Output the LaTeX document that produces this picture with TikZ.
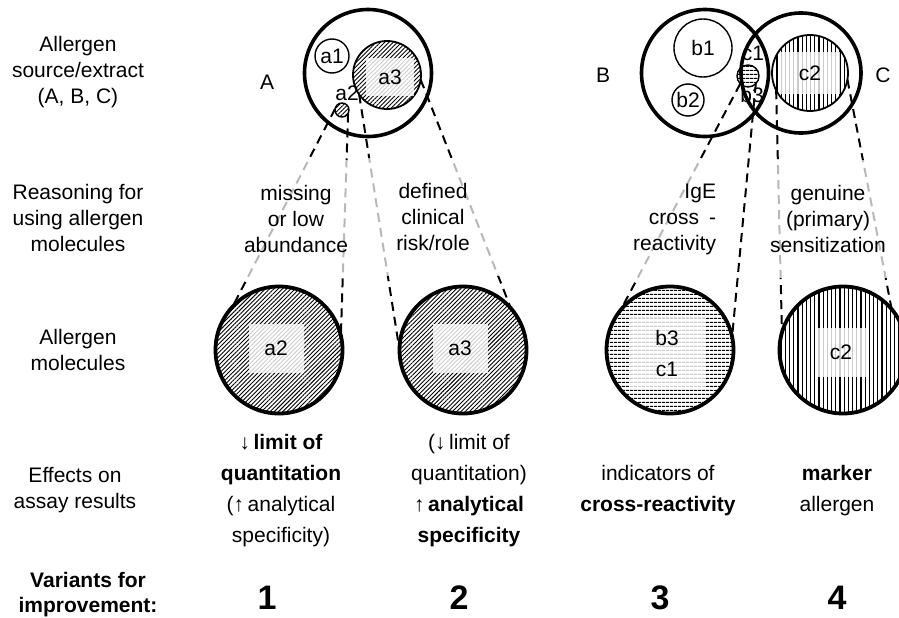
\documentclass[tikz,border=0pt]{standalone}
\usepackage{fontspec}
\setmainfont{Liberation Sans}
\usetikzlibrary{positioning,patterns,patterns.meta,calc}

\begin{document}
\begin{tikzpicture}[x=1pt,y=-1pt]
                    \tikzstyle{every node}=[font=\fontsize{21}{26}\selectfont,inner sep=0,outer sep=0,align=center]
                    \tikzstyle{srcring}=[circle,draw,line width=3.6,minimum size=127]
                    \tikzstyle{molring}=[circle,draw,line width=3.8,minimum size=127]
                    \tikzstyle{part}=[circle,draw,line width=1.4]
                    \tikzstyle{hatch}=[pattern={Lines[angle=45,distance=3pt,line width=0.9pt]},pattern color=black]
                    \tikzstyle{hlines}=[pattern={Lines[angle=0,distance=4pt,line width=1.3pt]}]
                    \tikzstyle{vlines}=[pattern={Lines[angle=90,distance=4.2pt,line width=1.3pt]}]
                    \tikzstyle{lblbox}=[rectangle,fill=white,fill opacity=0.8,text opacity=1]
                    \tikzstyle{cone}=[line width=2,dash pattern=on 9pt off 6pt]
                    \tikzstyle{why}=[rectangle,fill=white,fill opacity=0.72,text opacity=1,minimum height=118]
                    \tikzstyle{effect}=[font=\fontsize{21}{31}\selectfont]
                    \tikzstyle{num}=[font=\fontsize{34}{34}\selectfont\bfseries]
                    \useasboundingbox (0,0) rectangle (899,618);
                    {
                        \node (rsrc) at (78,72) {Allergen\\source/extract\\(A, B, C)};
                        \node (rwhy) at (78,218) {Reasoning for\\using allergen\\molecules};
                        \node (rmol) at (78,350) {Allergen\\molecules};
                        \node (reff) at (75,490) {Effects on\\assay results};
                        \node[font=\fontsize{21}{25}\selectfont\bfseries] (rvar) at (88,595) {Variants for\\improvement:};
                    }
                    {
                        \node[srcring] (A) at (368,73) {};
                        \node[part,minimum size=34] (a1) at (332,56) {a1};
                        \node[part,hatch,line width=1.8,minimum size=68] (a3) at (387,75) {};
                        \node[lblbox,minimum width=48,minimum height=38] (la3) at (390,77) {a3};
                        \node[part,hatch,minimum size=14] (a2) at (342,110) {};
                        \node (la2) at (347,93) {a2};
                        \node (lA) at (267,82) {A};
                    }
                    {
                        \node[srcring] (B) at (705,73) {};
                        \node[srcring,minimum size=120] (C) at (801,73) {};
                        \node[part,minimum size=58] (b1) at (703,48) {b1};
                        \node[part,minimum size=32] (b2) at (688,100) {b2};
                        \node[part,vlines,line width=1.8,minimum size=76] (c2) at (810,73) {};
                        \node[lblbox,minimum width=60,minimum height=42] (lc2) at (810,73) {c2};
                        \node[part,hlines,minimum size=22] (b3) at (748,76) {};
                        \node (lc1) at (753,53) {c1};
                        \node (lb3) at (752,95) {b3};
                        \node (lB) at (603,75) {B};
                        \node (lC) at (883,75) {C};
                    }
                    {
                        \node[molring,hatch] (ma2) at (279,350) {};
                        \node[lblbox,minimum width=55,minimum height=49] at (276,348) {a2};
                        \node[molring,hatch] (ma3) at (463,350) {};
                        \node[lblbox,minimum width=55,minimum height=49] at (460,348) {a3};
                        \node[molring,hlines] (mb3) at (670,350) {};
                        \node[lblbox,font=\fontsize{21}{31}\selectfont,minimum width=76,minimum height=70] at (667,353) {b3\\c1};
                        \node[molring,vlines] (mc2) at (843,350) {};
                        \node[lblbox,minimum width=53,minimum height=49] at (841,352) {c2};
                    }
                    \draw[cone] (a2.170) -- (ma2.137);
                    \draw[cone] (a2.330) -- (ma2.13);
                    \draw[cone] (a3.215) -- (ma3.180);
                    \draw[cone] (a3.352) -- (ma3.41);
                    \draw[cone] (b3.225) -- (mb3.141);
                    \draw[cone] (b3.315) -- (mb3.12);
                    \draw[cone] (c2.207) -- (mc2.164);
                    \draw[cone] (c2.350) -- (mc2.40);
                    {
                        \node[why,minimum width=128] (w1) at (296,219) {missing\\or low\\abundance};
                        \node[why,minimum width=140] (w2) at (433,217) {defined\\clinical\\risk/role};
                        \node[why,anchor=east,align=right,text width=92,inner xsep=6] (w3) at (722,219) {IgE\\cross\hspace{10pt}-\\reactivity};
                        \node[why,minimum width=138] (w4) at (828,219) {genuine\\(primary)\\sensitization};
                    }
                    {
                        \node[effect] (e1) at (281,491) {↓\,\textbf{limit of}\\\textbf{quantitation}\\(↑\,analytical\\specificity)};
                        \node[effect] (e2) at (469,491) {(↓\,limit of\\quantitation)\\↑\,\textbf{analytical}\\\textbf{specificity}};
                        \node[effect] (e3) at (658,491) {indicators of\\\textbf{cross-reactivity}};
                        \node[effect] (e4) at (837,491) {\textbf{marker}\\allergen};
                    }
                    {
                        \node[num] (v1) at (267,598) {1};
                        \node[num] (v2) at (459,598) {2};
                        \node[num] (v3) at (660,598) {3};
                        \node[num] (v4) at (837,598) {4};
                    }
                \end{tikzpicture}
\end{document}
